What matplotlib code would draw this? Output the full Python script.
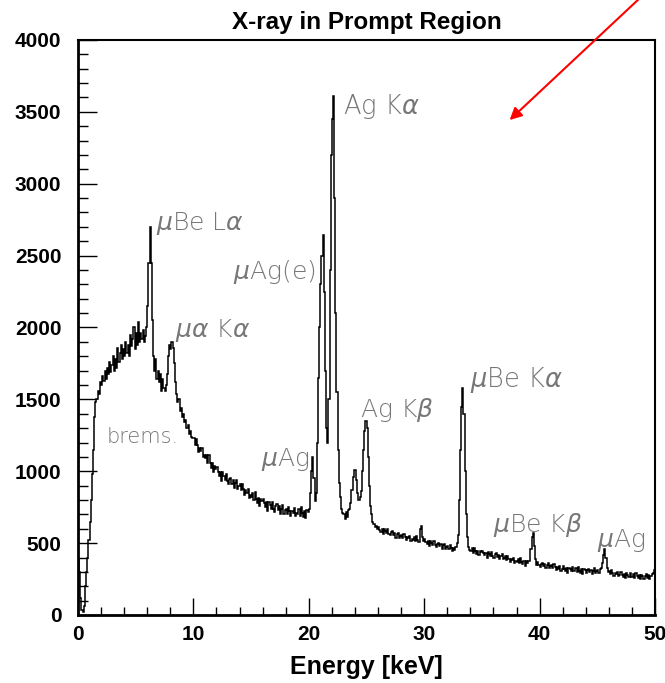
import numpy as np
import matplotlib
matplotlib.use("Agg")
import matplotlib.pyplot as plt
from matplotlib.ticker import MultipleLocator
from matplotlib.font_manager import FontProperties

# Bin edges: 0.1 keV bins from 0 to 50 keV
bin_width = 0.1
counts = [
    390, 300, 120, 35, 20, 60, 200, 300, 400, 520,            # 0
    650, 800, 980, 1150, 1380, 1480, 1500, 1560, 1540, 1620,  # 1
    1600, 1660, 1630, 1700, 1640, 1720, 1680, 1760, 1690, 1740,  # 2
    1800, 1700, 1780, 1720, 1860, 1760, 1820, 1880, 1780, 1850,  # 3
    1800, 1900, 1820, 1880, 1800, 1950, 1870, 1920, 2000, 1850,  # 4
    1960, 1880, 2040, 1900, 1960, 1920, 1980, 1900, 1940, 2000,  # 5
    2150, 2450, 2700, 2450, 2050, 1800, 1700, 1780, 1640, 1700,  # 6
    1620, 1680, 1560, 1640, 1580, 1560, 1600, 1680, 1800, 1880,  # 7
    1850, 1900, 1860, 1750, 1620, 1540, 1480, 1500, 1420, 1440,  # 8
    1380, 1400, 1340, 1360, 1300, 1320, 1260, 1280, 1240, 1230,  # 9
    1230, 1184, 1223, 1182, 1136, 1165, 1139, 1163, 1097, 1111,  # 10
    1090, 1115, 1060, 1110, 1060, 1025, 1055, 995, 1040, 1015,   # 11
    1030, 993, 967, 995, 934, 993, 966, 939, 983, 931,           # 12
    910, 945, 956, 911, 937, 882, 918, 938, 879, 899,            # 13
    910, 869, 913, 877, 836, 870, 849, 878, 817, 836,            # 14
    820, 850, 800, 855, 810, 780, 815, 760, 810, 790,            # 15
    810, 776, 753, 784, 726, 787, 764, 740, 787, 738,            # 16
    720, 757, 770, 727, 755, 702, 740, 762, 705, 727,            # 17
    740, 704, 753, 722, 686, 725, 709, 743, 687, 711,            # 18
    700, 735, 690, 750, 710, 685, 725, 675, 730, 720,            # 19
    740, 850, 1000, 1100, 950, 790, 850, 1200, 1650, 2000,       # 20
    2300, 2500, 2640, 2250, 1700, 1300, 1200, 1500, 2400, 3200,  # 21
    3450, 3610, 2900, 2100, 1550, 1150, 920, 820, 740, 710,      # 22
    700, 670, 720, 680, 730, 740, 780, 870, 960, 1010,           # 23
    1010, 940, 850, 800, 820, 860, 1000, 1150, 1280, 1350,       # 24
    1300, 1100, 900, 760, 700, 650, 630, 610, 620, 600,          # 25
    613, 592, 578, 596, 561, 597, 583, 568, 596, 566,            # 26
    555, 576, 583, 556, 572, 539, 561, 573, 538, 550,            # 27
    557, 534, 563, 543, 521, 543, 533, 552, 518, 531,            # 28
    524, 543, 514, 548, 522, 505, 600, 620, 545, 515,            # 29
    528, 508, 494, 513, 478, 515, 501, 487, 515, 486,            # 30
    475, 497, 504, 478, 494, 462, 484, 497, 462, 475,            # 31
    482, 459, 487, 467, 444, 466, 455, 474, 500, 560,            # 32
    800, 1150, 1450, 1580, 1400, 1000, 700, 540, 470, 450,       # 33
    444, 463, 434, 468, 442, 425, 447, 415, 446, 435,            # 34
    448, 428, 415, 434, 400, 437, 424, 410, 439, 410,            # 35
    400, 422, 429, 403, 419, 387, 409, 422, 387, 400,            # 36
    407, 384, 412, 392, 369, 391, 380, 399, 364, 377,            # 37
    369, 388, 360, 394, 369, 352, 375, 343, 375, 364,            # 38
    378, 375, 460, 540, 570, 480, 390, 350, 372, 345,            # 39
    335, 357, 365, 339, 356, 324, 347, 360, 326, 339,            # 40
    347, 324, 353, 333, 311, 333, 323, 342, 308, 321,            # 41
    338, 319, 306, 326, 292, 330, 317, 304, 333, 305,            # 42
    304, 325, 298, 333, 309, 294, 318, 288, 320, 312,            # 43
    290, 314, 323, 299, 311, 287, 304, 326, 293, 305,            # 44
    312, 291, 321, 330, 360, 420, 460, 400, 330, 300,            # 45
    307, 284, 313, 293, 271, 293, 283, 302, 268, 281,            # 46
    298, 279, 266, 286, 260, 291, 279, 265, 290, 266,            # 47
    264, 285, 258, 293, 269, 254, 277, 249, 281, 268,            # 48
    250, 274, 283, 259, 277, 247, 271, 286, 290, 310,            # 49
]
x_min, x_max = 0, 50
y_min, y_max = 0, 4000

title = "X-ray in Prompt Region"
xlabel = "Energy [keV]"

labels = [r"$\mu$Be L$\alpha$", r"$\mu\alpha$ K$\alpha$", r"$\mu$Ag(e)",
          r"Ag K$\alpha$", "brems.", r"$\mu$Ag", r"Ag K$\beta$",
          r"$\mu$Be K$\alpha$", r"$\mu$Be K$\beta$", r"$\mu$Ag"]
label_x = [6.76, 8.4, 13.4, 22.96, 2.5, 15.86, 24.44, 33.97, 35.96, 44.97]
label_y = [2678, 1934, 2337, 3485, 1197, 1037, 1377, 1586, 577, 473]
label_size = [18, 18, 18, 18.5, 15, 18, 18, 18.5, 18, 18]

edges = np.round(np.arange(len(counts) + 1) * bin_width, 3)

plt.rcParams["mathtext.fontset"] = "dejavusans"

fig = plt.figure(figsize=(6.65, 6.83), dpi=100)
ax = fig.add_axes([78 / 665, 68 / 683, 577 / 665, 575 / 683])

ax.stairs(counts, edges, color="black", linewidth=1.1)

ax.set_xlim(x_min, x_max)
ax.set_ylim(y_min, y_max)

bold = dict(family=["Liberation Sans", "DejaVu Sans"], weight="bold")

ax.xaxis.set_major_locator(MultipleLocator(10))
ax.xaxis.set_minor_locator(MultipleLocator(2))
ax.yaxis.set_major_locator(MultipleLocator(500))
ax.yaxis.set_minor_locator(MultipleLocator(100))
ax.tick_params(which="both", direction="in", top=False, right=False)
ax.tick_params(axis="y", which="major", length=14, width=1, pad=12)
ax.tick_params(axis="y", which="minor", length=7, width=1)
ax.tick_params(axis="x", which="major", length=12, width=1, pad=7)
ax.tick_params(axis="x", which="minor", length=6, width=1)
for lab in ax.get_xticklabels() + ax.get_yticklabels():
    lab.set_fontproperties(FontProperties(
        family="Liberation Sans", weight="bold", size=15))

ax.spines["left"].set_linewidth(2.0)
ax.spines["bottom"].set_linewidth(2.0)
ax.spines["top"].set_linewidth(1.5)
ax.spines["right"].set_linewidth(1.5)

ax.set_title(title, fontsize=17.5, pad=8, **bold)
fig.text(366 / 665, 1 - 667 / 683, xlabel, ha="center", va="center",
         fontsize=18, **bold)

for t, lx, ly, fs in zip(labels, label_x, label_y, label_size):
    ax.text(lx, ly, t, ha="left", va="baseline", family="DejaVu Sans",
            weight="light", color="#777777", fontsize=fs)

ax.annotate("", xy=(37.4, 3443), xytext=(49.2, 4330), xycoords="data",
            textcoords="data", annotation_clip=False,
            arrowprops=dict(arrowstyle="-|>", color="red", lw=1.5,
                            mutation_scale=18, shrinkA=0, shrinkB=0))

fig.savefig("out.png", dpi=100)
